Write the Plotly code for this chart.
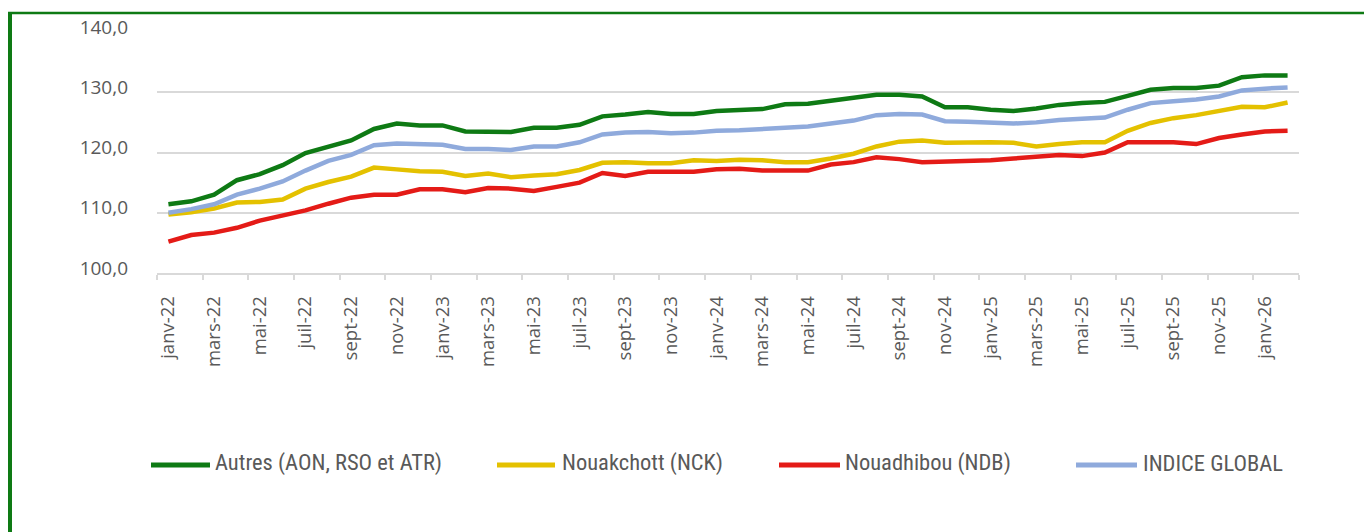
import plotly.graph_objects as go

# ---- data ----
month_abbr = ["janv", "févr", "mars", "avr", "mai", "juin", "juil", "août", "sept", "oct", "nov", "déc"]
months = [f"{m}-{y}" for y in ["22", "23", "24", "25"] for m in month_abbr] + ["janv-26", "févr-26"]

series_names = ["Autres (AON, RSO et ATR)", "Nouakchott (NCK)", "Nouadhibou (NDB)", "INDICE GLOBAL"]

autres = [111.4, 111.9, 113.0, 115.4, 116.4, 117.9, 119.9, 121.0, 122.0, 123.9, 124.8, 124.5, 124.5,
          123.5, 123.4, 123.4, 124.1, 124.1, 124.6, 126.0, 126.3, 126.7, 126.4, 126.4, 126.9, 127.0,
          127.2, 128.0, 128.1, 128.6, 129.1, 129.6, 129.6, 129.3, 127.5, 127.5, 127.1, 126.9,
          127.3, 127.9, 128.2, 128.4, 129.4, 130.4, 130.7, 130.7, 131.1, 132.5, 132.8, 132.8]
nck = [109.7, 110.1, 110.7, 111.7, 111.8, 112.2, 114.0, 115.1, 116.0, 117.5, 117.2, 116.9, 116.8,
       116.1, 116.5, 115.9, 116.2, 116.4, 117.1, 118.3, 118.4, 118.2, 118.2, 118.7, 118.6, 118.8,
       118.7, 118.4, 118.4, 119.0, 119.8, 121.0, 121.8, 122.0, 121.6, 121.7, 121.7, 121.6,
       121.0, 121.4, 121.7, 121.7, 123.6, 124.9, 125.7, 126.2, 126.9, 127.6, 127.5, 128.3]
ndb = [105.2, 106.3, 106.7, 107.5, 108.7, 109.6, 110.4, 111.5, 112.5, 113.0, 113.0, 113.9, 113.9,
       113.4, 114.1, 114.0, 113.6, 114.3, 115.0, 116.6, 116.1, 116.8, 116.8, 116.8, 117.2, 117.3,
       117.0, 117.0, 117.0, 118.0, 118.4, 119.2, 118.9, 118.4, 118.5, 118.7, 118.7, 119.0,
       119.3, 119.6, 119.4, 120.0, 121.7, 121.7, 121.7, 121.4, 122.4, 123.0, 123.5, 123.6]
indice_global = [110.0, 110.6, 111.4, 113.0, 114.0, 115.2, 117.0, 118.6, 119.6, 121.2, 121.5, 121.4, 121.3,
                 120.6, 120.6, 120.4, 121.0, 121.0, 121.7, 123.0, 123.3, 123.4, 123.2, 123.3, 123.6, 123.7,
                 123.9, 124.1, 124.3, 124.8, 125.3, 126.2, 126.4, 126.3, 125.2, 125.1, 124.9, 124.8,
                 125.0, 125.4, 125.6, 125.8, 127.1, 128.2, 128.5, 128.8, 129.3, 130.3, 130.6, 130.8]

y_ticks = [100, 110, 120, 130, 140]
y_tick_text = ["100,0", "110,0", "120,0", "130,0", "140,0"]

colors = ["#0E7A14", "#E4C100", "#E41B17", "#8FAADC"]
series = [autres, nck, ndb, indice_global]

# ---- layout constants (pixels) ----
W, H = 1364, 532
ML, MR, MT, MB = 157, 65, 32, 259
PW, PH = W - ML - MR, H - MT - MB


def px_x(px):
    return (px - ML) / PW


def px_y(py):
    return (H - MB - py) / PH


idx = list(range(len(months)))

fig = go.Figure()
for name, vals, col in zip(series_names, series, colors):
    fig.add_trace(go.Scatter(x=idx, y=vals, name=name, mode="lines",
                             line=dict(color=col, width=4.5), showlegend=False))

fig.update_layout(
    width=W, height=H,
    margin=dict(l=ML, r=MR, t=MT, b=MB),
    paper_bgcolor="white", plot_bgcolor="white",
    font=dict(family="Open Sans, sans-serif", color="#595959"),
)

fig.update_xaxes(
    range=[-0.5, len(months) - 0.5],
    tickmode="array", tickvals=idx[::2], ticktext=months[::2],
    tickangle=-90, ticks="", ticklabelstandoff=14,
    tickfont=dict(family="Open Sans", size=18.5, color="#595959"),
    showgrid=False, zeroline=False,
    showline=True, linecolor="#D9D9D9", linewidth=1.5,
    minor=dict(tickmode="array", tickvals=[i - 0.5 for i in range(0, len(months) + 1, 2)],
               ticks="outside", ticklen=5, tickcolor="#D9D9D9", tickwidth=1.5, showgrid=False),
)
fig.update_yaxes(
    range=[100, 140], tickmode="array", tickvals=y_ticks, ticktext=y_tick_text,
    tickfont=dict(family="Open Sans", size=19, color="#595959"),
    showgrid=True, gridcolor="#D9D9D9", gridwidth=1.5, zeroline=False,
    ticks="", ticklabelstandoff=28, ticklabelshift=-5, showline=False,
)

# ---- manual legend ----
legend_items = [(151, 210, 213), (497, 555, 560), (779, 840, 843), (1076, 1137, 1141)]
leg_y = 463
shapes = []
annotations = []
for (x0, x1, xt), name, col in zip(legend_items, series_names, colors):
    shapes.append(dict(type="line", xref="paper", yref="paper",
                       x0=px_x(x0), x1=px_x(x1), y0=px_y(leg_y + 2), y1=px_y(leg_y + 2),
                       line=dict(color=col, width=5)))
    annotations.append(dict(xref="paper", yref="paper", x=px_x(xt), y=px_y(leg_y),
                            xanchor="left", yanchor="middle", text=name, showarrow=False,
                            font=dict(family="Liberation Sans Narrow, Roboto Condensed, Lato", size=22.5,
                                      color="#595959")))

# ---- green frame ----
shapes.append(dict(type="line", xref="paper", yref="paper", x0=px_x(10), x1=px_x(10),
                   y0=px_y(12), y1=px_y(545), line=dict(color="#0E7A14", width=4)))
shapes.append(dict(type="line", xref="paper", yref="paper", x0=px_x(8), x1=px_x(1375),
                   y0=px_y(13), y1=px_y(13), line=dict(color="#0E7A14", width=2.5)))

fig.update_layout(shapes=shapes, annotations=annotations)

fig.write_html("out.html",
               config={"displayModeBar": False},
               post_script="document.body.style.margin='0';document.body.style.padding='0';"
                           "document.body.style.overflow='hidden';")
